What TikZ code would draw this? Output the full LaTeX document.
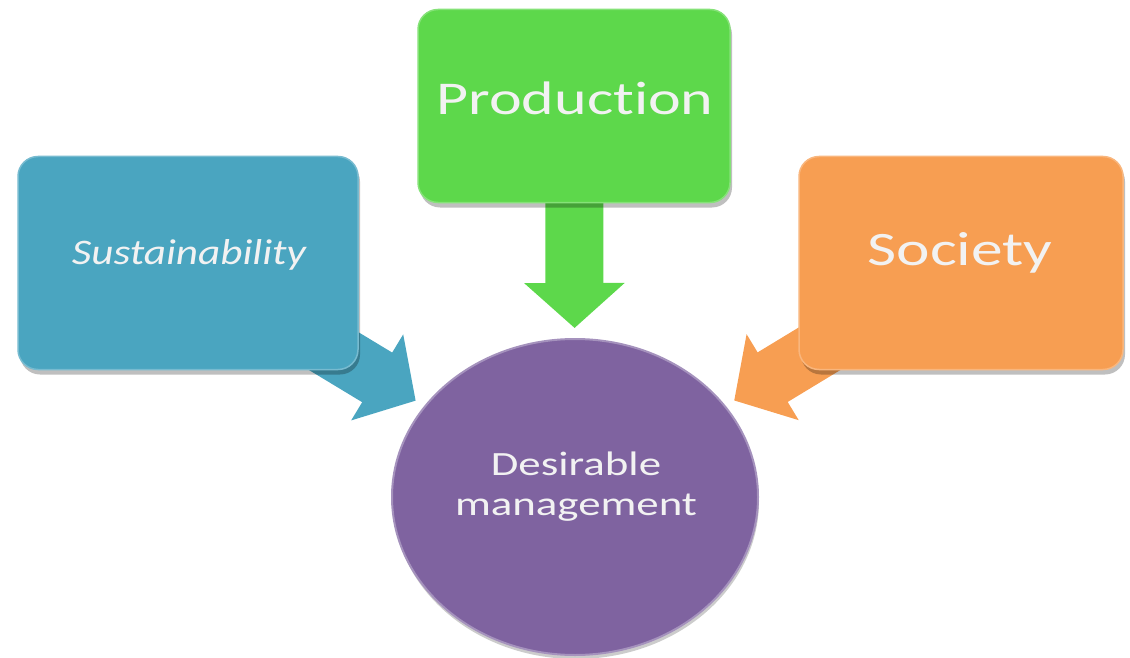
\documentclass[tikz,border=0pt]{standalone}
\usepackage{fontspec}
\setmainfont{Carlito}
\newfontfamily\widefont[FakeStretch=1.32,Ligatures=NoCommon]{Carlito}
\newfontfamily\wideitfont[FakeStretch=1.2,Ligatures=NoCommon]{Carlito}
\usetikzlibrary{arrows.meta,shapes.geometric,shadows,backgrounds}

\tikzset{every picture/.style={line width=0.75pt}}

\definecolor{susblue}{RGB}{74,165,192}
\definecolor{prodgreen}{RGB}{93,216,75}
\definecolor{socorange}{RGB}{247,158,82}
\definecolor{dmpurple}{RGB}{127,99,160}
\definecolor{lbltext}{RGB}{242,242,242}

\begin{document}
\begin{tikzpicture}[x=1pt,y=1pt,yscale=-1,
  panel/.style={fill=#1, draw=#1!75!white, line width=1.5pt, rounded corners=20pt,
    drop shadow={shadow xshift=2pt, shadow yshift=-5pt, opacity=0.25, fill=black}},
  blockarrow/.style={draw=#1, line width=58pt, -{Triangle[length=45pt,width=98pt]}, shorten >=10pt},
  lbl/.style={text=lbltext, inner sep=0pt}]
\useasboundingbox (0,0) rectangle (1130,658);

%Shape: Rectangle [sustainability]
\node [panel=susblue, minimum width=340pt, minimum height=213pt] (sus) at (188,263) {};
%Shape: Rectangle [production]
\node [panel=prodgreen, minimum width=312pt, minimum height=193pt] (prod) at (574,106) {};
%Shape: Rectangle [society]
\node [panel=socorange, minimum width=324pt, minimum height=213pt] (soc) at (961,263) {};
%Shape: Ellipse [management]
\node [ellipse, fill=dmpurple, draw=dmpurple!70!white, line width=2pt, minimum width=366pt, minimum height=316pt,
  drop shadow={shadow xshift=1pt, shadow yshift=-4pt, opacity=0.2, fill=black}] (dm) at (575,497) {};

%Block Arrows
\begin{pgfonlayer}{background}
\draw [blockarrow=susblue] (sus.center) -- (dm);
\draw [blockarrow=prodgreen] (prod.center) -- (dm);
\draw [blockarrow=socorange] (soc.center) -- (dm);
\end{pgfonlayer}

% Text Node
\draw (189,255) node [lbl, font=\wideitfont\fontsize{36}{40}\selectfont\itshape] (susText) {Sustainability};
% Text Node
\draw (575,98) node [lbl, font=\widefont\fontsize{47}{52}\selectfont] (prodText) {Production};
% Text Node
\draw (960,253) node [lbl, font=\widefont\fontsize{48}{54}\selectfont] (socText) {Society};
% Text Node
\draw (576,487) node [lbl, align=center, font=\widefont\fontsize{34}{40}\selectfont] (dmText) {Desirable\\management};

\end{tikzpicture}
\end{document}
